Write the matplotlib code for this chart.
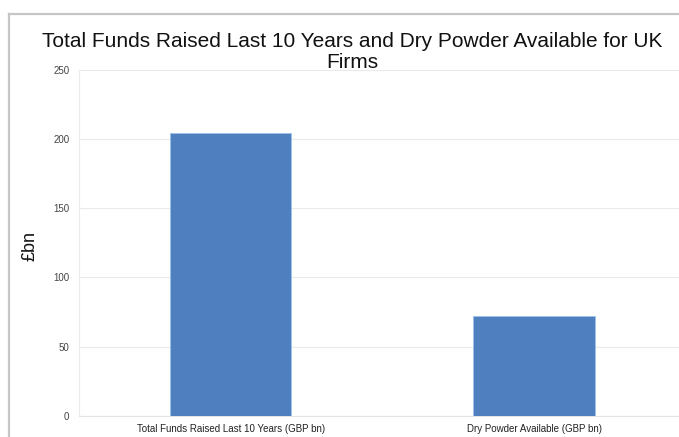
import matplotlib
matplotlib.use("Agg")
import matplotlib.pyplot as plt

categories = ["Total Funds Raised Last 10 Years (GBP bn)", "Dry Powder Available (GBP bn)"]
values = [204, 72]
yticks = [0, 50, 100, 150, 200, 250]
title_lines = ["Total Funds Raised Last 10 Years and Dry Powder Available for UK", "Firms"]

plt.rcParams["font.family"] = ["Liberation Sans", "DejaVu Sans"]

W, H = 679, 437
fig = plt.figure(figsize=(W / 100, H / 100), dpi=100)
fig.patch.set_facecolor("white")

# outer frame (open on the right and bottom)
fig.add_artist(plt.Line2D([9 / W, 9 / W], [0, 1 - 14 / H], color="#c6c6c6", lw=1.6,
                          transform=fig.transFigure))
fig.add_artist(plt.Line2D([9 / W, 1], [1 - 14 / H, 1 - 14 / H], color="#c6c6c6", lw=1.6,
                          transform=fig.transFigure))

ax = fig.add_axes([79 / W, 1 - 416 / H, 1 - 79 / W + 0.01, (416 - 69.7) / H])
x = list(range(len(categories)))
ax.bar(x, values, width=0.4, color="#4f7fbe", edgecolor="#9cc3ea", linewidth=0.6, zorder=3)

ax.set_xlim(-0.5, 1.5)
ax.set_ylim(0, 250)
ax.set_yticks(yticks)
ax.set_yticklabels([str(t) for t in yticks], fontsize=7, color="#444444")
ax.set_xticks(x)
ax.set_xticklabels(categories, fontsize=7, color="#222222")
ax.tick_params(axis="y", length=0, pad=7)
ax.tick_params(axis="x", length=0, pad=6)
ax.grid(axis="y", color="#e9e9e9", lw=0.8, zorder=0)
for side in ["top", "right"]:
    ax.spines[side].set_visible(False)
ax.spines["left"].set_color("#ececec")
ax.spines["bottom"].set_color("#e4e4e4")
ax.spines["left"].set_linewidth(0.8)
ax.spines["bottom"].set_linewidth(0.8)

fig.text(30 / W, 1 - 246 / H, "£bn", rotation=90, fontsize=13, color="#111111",
         ha="center", va="center")
fig.text(352 / W, 1 - 46.7 / H, title_lines[0], ha="center", va="baseline",
         fontsize=15, color="#111111")
fig.text(352 / W, 1 - 68.3 / H, title_lines[1], ha="center", va="baseline",
         fontsize=15, color="#111111")

fig.savefig("out.png", dpi=100)
